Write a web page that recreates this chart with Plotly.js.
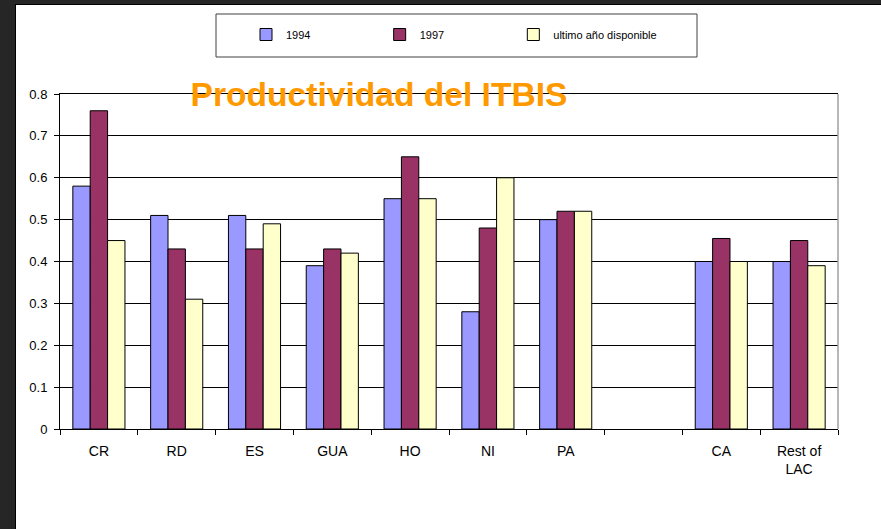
<!DOCTYPE html>
<html>
<head>
<meta charset="utf-8">
<script src="https://cdn.plot.ly/plotly-3.0.1.min.js"></script>
<style>
  html, body { margin:0; padding:0; background:#262626; width:881px; height:529px; overflow:hidden; }
  #chart { position:absolute; left:15px; top:4px; width:866px; height:525px; box-sizing:border-box;
           border-left:1px solid #000; border-top:1px solid #000; background:#fff; }
</style>
</head>
<body>
<div id="chart"></div>
<script>
// Data
var categories = ['CR', 'RD', 'ES', 'GUA', 'HO', 'NI', 'PA', ' ', 'CA', 'Rest of<br>LAC'];
var values1994 = [0.58, 0.51, 0.51, 0.39, 0.55, 0.28, 0.50, null, 0.40, 0.40];
var values1997 = [0.76, 0.43, 0.43, 0.43, 0.65, 0.48, 0.52, null, 0.455, 0.45];
var valuesUltimo = [0.45, 0.31, 0.49, 0.42, 0.55, 0.60, 0.52, null, 0.40, 0.39];
var seriesNames = ['1994', '1997', 'ultimo año disponible'];
var seriesColors = ['#9999FF', '#993366', '#FFFFCC'];
var yTicks = [0, 0.1, 0.2, 0.3, 0.4, 0.5, 0.6, 0.7, 0.8];
var yTickText = ['0', '0.1', '0.2', '0.3', '0.4', '0.5', '0.6', '0.7', '0.8'];

// legend spacing: pad the short names with non-breaking spaces
var legendPad = '\u00A0'.repeat(21);

var allValues = [values1994, values1997, valuesUltimo];
var traces = allValues.map(function (vals, i) {
  return {
    type: 'bar',
    name: seriesNames[i] + (i < 2 ? legendPad : ''),
    x: categories,
    y: vals,
    marker: { color: seriesColors[i], line: { color: '#000000', width: 1 } },
    hoverinfo: 'x+y'
  };
});

var W = 865, H = 524;
var layout = {
  width: W, height: H,
  margin: { l: 44, r: 43, t: 89, b: 100, pad: 0 },
  paper_bgcolor: '#ffffff',
  plot_bgcolor: '#ffffff',
  font: { family: 'Liberation Sans, Arial, sans-serif', size: 13, color: '#000000' },
  barmode: 'group',
  bargap: 0.33,
  bargroupgap: 0,
  title: {
    text: '<b>Productividad del ITBIS</b>',
    font: { family: 'Liberation Sans, Arial, sans-serif', size: 33.6, color: '#FF9900' },
    x: (379 - 16) / W, xanchor: 'center', xref: 'container',
    y: 1 - (94 - 5) / H, yanchor: 'middle', yref: 'container'
  },
  xaxis: {
    type: 'category',
    categoryorder: 'array',
    categoryarray: categories,
    tickson: 'boundaries',
    ticks: 'outside', ticklen: 5, tickcolor: '#000', tickwidth: 1,
    ticklabelstandoff: 9,
    showline: true, linecolor: '#000', linewidth: 1, mirror: true,
    showgrid: false, zeroline: false,
    tickfont: { size: 14, color: '#000' },
    fixedrange: true
  },
  yaxis: {
    range: [0, 0.8],
    tickvals: yTicks, ticktext: yTickText,
    ticks: 'outside', ticklen: 5, tickcolor: '#000', tickwidth: 1,
    ticklabelstandoff: 4,
    showline: true, linecolor: '#000', linewidth: 1,
    showgrid: true, gridcolor: '#000', gridwidth: 1,
    zeroline: false,
    tickfont: { size: 13, color: '#000' },
    fixedrange: true
  },
  showlegend: true,
  legend: {
    orientation: 'h',
    x: (246 - 60) / 778, xanchor: 'left',
    y: (429 - 20) / 335, yanchor: 'top',
    bgcolor: 'rgba(0,0,0,0)', borderwidth: 0,
    font: { size: 11, color: '#000' },
    traceorder: 'normal'
  },
  shapes: [
    { type: 'rect', xref: 'paper', yref: 'paper',
      x0: (216 - 60) / 778, x1: (697 - 60) / 778,
      y0: (429 - 57) / 335, y1: (429 - 14) / 335,
      line: { color: '#404040', width: 1 }, fillcolor: 'rgba(0,0,0,0)', layer: 'above' },
    { type: 'line', xref: 'paper', yref: 'paper', x0: 1, x1: 1, y0: 0, y1: 1,
      line: { color: '#A0A0A0', width: 1.5 }, layer: 'above' }
  ]
};

Plotly.newPlot('chart', traces, layout, { displayModeBar: false, staticPlot: true });
</script>
</body>
</html>
